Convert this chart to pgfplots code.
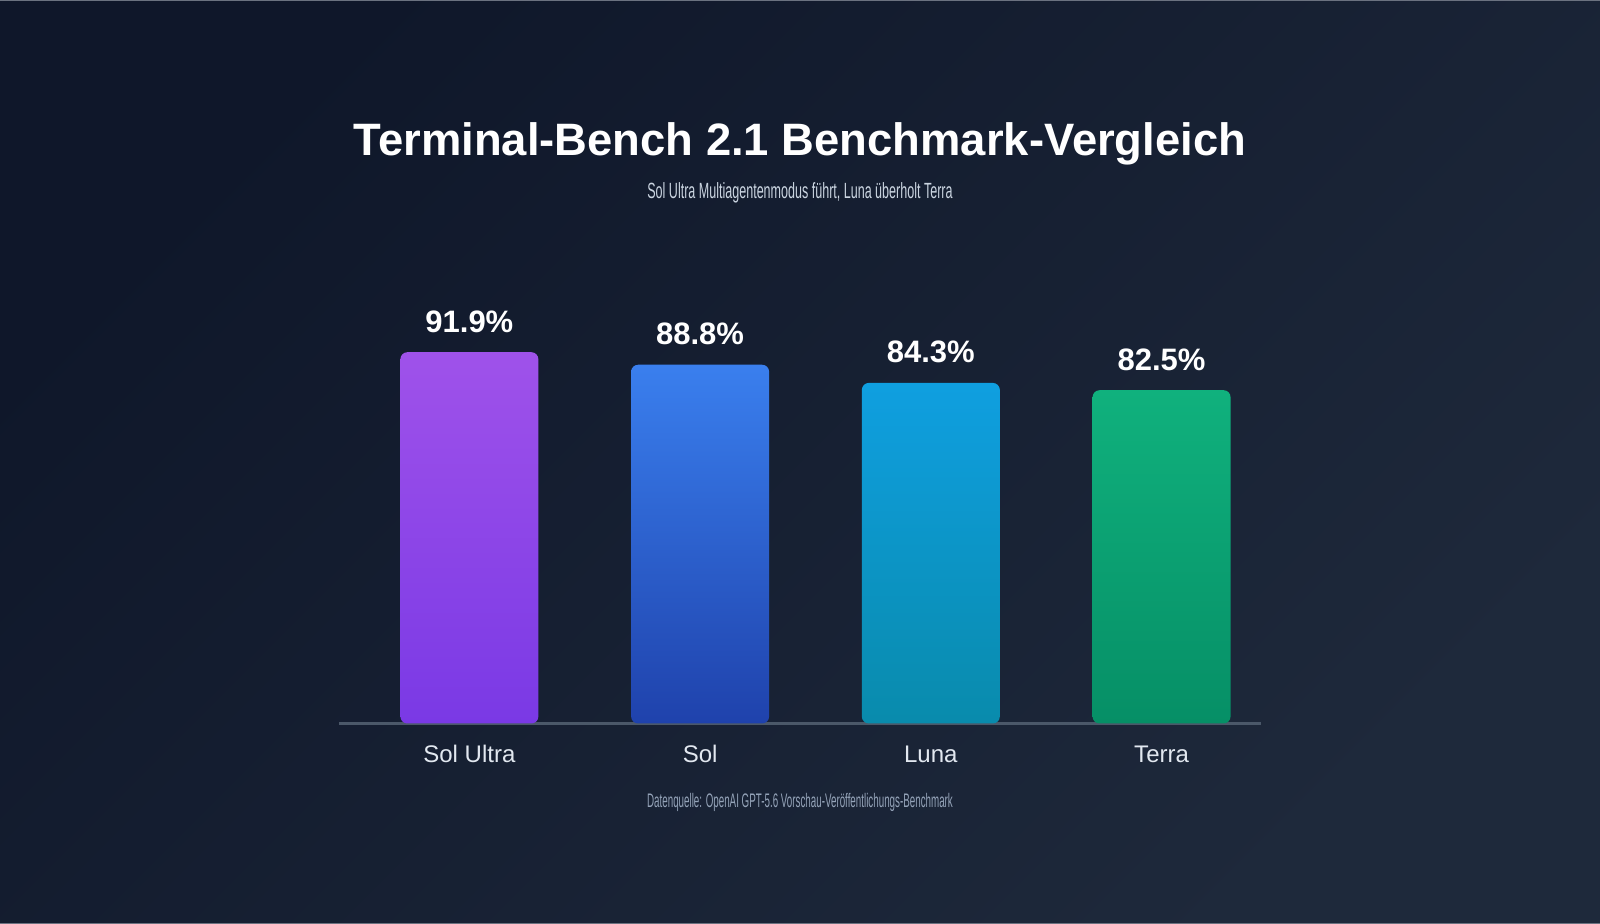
\documentclass[border=0pt]{standalone}
\usepackage{pgfplots}
\pgfplotsset{compat=1.18}
\usepackage{fontspec}
\setmainfont{Liberation Sans}
\newfontfamily\subfont[FakeStretch=0.57]{Liberation Sans}
\newfontfamily\footfont[FakeStretch=0.5]{Liberation Sans}
\definecolor{bgA}{HTML}{0F172A}
\definecolor{bgB}{HTML}{1E293B}
\definecolor{edgeC}{HTML}{6B7280}
\definecolor{subC}{HTML}{CBD5E1}
\definecolor{footC}{HTML}{94A3B8}
\definecolor{labC}{HTML}{E2E8F0}
\definecolor{axisC}{HTML}{4B5869}
\definecolor{cAt}{HTML}{9F52EA}
\definecolor{cAb}{HTML}{7A39E5}
\definecolor{cBt}{HTML}{3A7FEE}
\definecolor{cBb}{HTML}{1F42AC}
\definecolor{cCt}{HTML}{0F9FE0}
\definecolor{cCb}{HTML}{098BAC}
\definecolor{cDt}{HTML}{10B17D}
\definecolor{cDb}{HTML}{068F66}
\pgfplotsset{
  mybar/.style={ybar, bar width=69pt, bar shift=0pt, draw=none, rounded corners=3.5pt,
    nodes near coords={\pgfmathprintnumber[assume math mode=true,fixed,precision=1,fixed zerofill]{\pgfplotspointmeta}\%},
    every node near coord/.append style={text=white, font=\fontsize{15.5}{18}\selectfont\bfseries, anchor=base, yshift=10pt, inner sep=0pt}},
}
\begin{document}
\begin{tikzpicture}[x=1pt,y=1pt]
\shade[top color=bgA, bottom color=bgB, shading angle=45] (0,0) rectangle (800,462);
\fill[edgeC] (0,461.5) rectangle (800,462);
\fill[edgeC] (0,0) rectangle (800,0.5);
\node[anchor=base, text=white, font=\fontsize{22.7}{27}\selectfont\bfseries, inner sep=0pt] at (400,384) {Terminal-Bench 2.1 Benchmark-Vergleich};
\node[anchor=base, text=subC, font=\subfont\fontsize{11}{13}\selectfont, inner sep=0pt] at (400,362.5) {Sol Ultra Multiagentenmodus führt, Luna überholt Terra};
\node[anchor=base, text=footC, font=\footfont\fontsize{9.8}{12}\selectfont, inner sep=0pt] at (400,58) {Datenquelle: OpenAI GPT-5.6 Vorschau-Veröffentlichungs-Benchmark};
\begin{axis}[
  at={(169.5pt,100.25pt)}, anchor=south west,
  scale only axis, width=461pt, height=202pt,
  xmin=-0.565, xmax=3.431, ymin=0, ymax=100,
  axis y line=none, axis x line=bottom,
  x axis line style={-, draw=axisC, line width=1.5pt},
  xtick={0,1,2,3}, xticklabels={Sol Ultra, Sol, Luna, Terra},
  major tick length=0pt, ytick=\empty,
  xticklabel style={text=labC, font=\fontsize{12}{14}\selectfont, anchor=base, yshift=-19.5pt, inner sep=0pt},
  clip=false,
]
\addplot[mybar, top color=cAt, bottom color=cAb] coordinates {(0,91.9)};
\addplot[mybar, top color=cBt, bottom color=cBb] coordinates {(1,88.8)};
\addplot[mybar, top color=cCt, bottom color=cCb] coordinates {(2,84.3)};
\addplot[mybar, top color=cDt, bottom color=cDb] coordinates {(3,82.5)};
\end{axis}
\end{tikzpicture}
\end{document}
